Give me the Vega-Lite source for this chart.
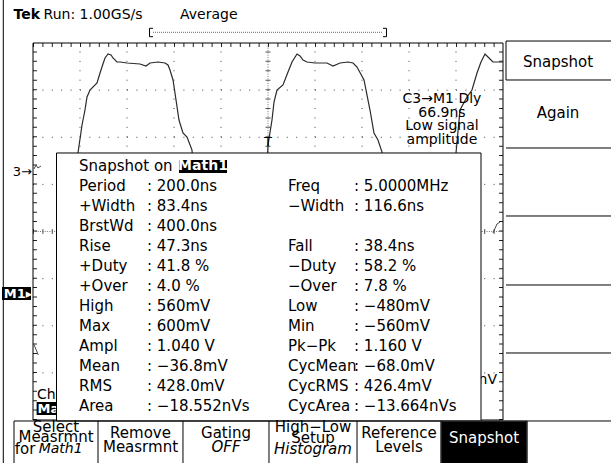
{
"$schema":"https://vega.github.io/schema/vega-lite/v6.json",
"width":470,"height":377,"autosize":"none",
"padding":{"left":33,"top":43,"right":108,"bottom":43},
"background":"white",
"config":{"view":{"stroke":null},"axis":{"disable":true},"text":{"font":"DejaVu Sans","baseline":"middle","color":"black"}},
"datasets":{
"wave":[{"t":0,"v":-1.061},{"t":0.83,"v":-1.061},{"t":0.872,"v":2.546},{"t":0.957,"v":5.666},{"t":1.043,"v":6.26},{"t":1.106,"v":6.578},{"t":1.149,"v":6.854},{"t":1.213,"v":7.003},{"t":1.362,"v":7.151},{"t":1.426,"v":7.363},{"t":1.489,"v":7.554},{"t":1.532,"v":7.682},{"t":1.596,"v":7.767},{"t":1.66,"v":7.745},{"t":1.702,"v":7.682},{"t":1.787,"v":7.597},{"t":1.851,"v":7.597},{"t":2.0,"v":7.576},{"t":2.277,"v":7.554},{"t":2.404,"v":7.512},{"t":2.489,"v":7.576},{"t":2.66,"v":7.597},{"t":2.809,"v":7.576},{"t":2.872,"v":7.533},{"t":2.915,"v":7.427},{"t":2.979,"v":7.215},{"t":3.043,"v":6.79},{"t":3.106,"v":6.366},{"t":3.191,"v":6.09},{"t":3.277,"v":6.005},{"t":3.383,"v":5.729},{"t":3.511,"v":3.607},{"t":3.617,"v":-1.061},{"t":4.787,"v":-1.061},{"t":4.872,"v":2.546},{"t":5.0,"v":5.836},{"t":5.085,"v":6.366},{"t":5.128,"v":6.748},{"t":5.191,"v":7.003},{"t":5.319,"v":7.109},{"t":5.426,"v":7.385},{"t":5.511,"v":7.597},{"t":5.617,"v":7.767},{"t":5.681,"v":7.724},{"t":5.745,"v":7.639},{"t":5.83,"v":7.597},{"t":6.0,"v":7.576},{"t":6.255,"v":7.576},{"t":6.383,"v":7.512},{"t":6.532,"v":7.576},{"t":6.702,"v":7.597},{"t":6.809,"v":7.576},{"t":6.894,"v":7.491},{"t":7.043,"v":7.215},{"t":7.17,"v":6.578},{"t":7.255,"v":6.09},{"t":7.34,"v":5.942},{"t":7.426,"v":5.687},{"t":7.553,"v":3.607},{"t":7.638,"v":-1.061},{"t":8.787,"v":-1.061},{"t":8.872,"v":2.546},{"t":9.0,"v":5.666},{"t":9.085,"v":6.578},{"t":9.234,"v":6.854},{"t":9.34,"v":7.003},{"t":9.447,"v":7.363},{"t":9.532,"v":7.597},{"t":9.617,"v":7.767},{"t":9.702,"v":7.682},{"t":9.787,"v":7.597},{"t":10.0,"v":7.597}],
"c3":[{"s":"a","t":0.021,"v":5.326},{"s":"a","t":0.064,"v":5.411},{"s":"a","t":0.106,"v":5.348},{"s":"a","t":0.17,"v":5.39},{"s":"b","t":0.007,"v":1.634},{"s":"b","t":0.113,"v":1.379},{"s":"c","t":9.787,"v":3.968},{"s":"c","t":9.872,"v":4.159},{"s":"c","t":9.936,"v":4.202}],
"table":[
{"line":1,"side":"L","label":"Period","value":": 200.0ns"},
{"line":2,"side":"L","label":"+Width","value":": 83.4ns"},
{"line":3,"side":"L","label":"BrstWd","value":": 400.0ns"},
{"line":4,"side":"L","label":"Rise","value":": 47.3ns"},
{"line":5,"side":"L","label":"+Duty","value":": 41.8 %"},
{"line":6,"side":"L","label":"+Over","value":": 4.0 %"},
{"line":7,"side":"L","label":"High","value":": 560mV"},
{"line":8,"side":"L","label":"Max","value":": 600mV"},
{"line":9,"side":"L","label":"Ampl","value":": 1.040 V"},
{"line":10,"side":"L","label":"Mean","value":": −36.8mV"},
{"line":11,"side":"L","label":"RMS","value":": 428.0mV"},
{"line":12,"side":"L","label":"Area","value":": −18.552nVs"},
{"line":1,"side":"R","label":"Freq","value":": 5.0000MHz"},
{"line":2,"side":"R","label":"−Width","value":": 116.6ns"},
{"line":4,"side":"R","label":"Fall","value":": 38.4ns"},
{"line":5,"side":"R","label":"−Duty","value":": 58.2 %"},
{"line":6,"side":"R","label":"−Over","value":": 7.8 %"},
{"line":7,"side":"R","label":"Low","value":": −480mV"},
{"line":8,"side":"R","label":"Min","value":": −560mV"},
{"line":9,"side":"R","label":"Pk−Pk","value":": 1.160 V"},
{"line":10,"side":"R","label":"CycMean","value":": −68.0mV"},
{"line":11,"side":"R","label":"CycRMS","value":": 426.4mV"},
{"line":12,"side":"R","label":"CycArea","value":": −13.664nVs"}],
"frame":[
{"x":-0.632,"x2":-0.632,"y":-0.95,"y2":8.95},
{"x":10.064,"x2":12.4,"y":8.042,"y2":8.042},
{"x":10.064,"x2":12.4,"y":7.215,"y2":7.215},
{"x":10.064,"x2":10.064,"y":7.215,"y2":8.042},
{"x":10.064,"x2":12.4,"y":5.772,"y2":5.772},
{"x":10.064,"x2":12.4,"y":4.329,"y2":4.329},
{"x":10.064,"x2":12.4,"y":2.865,"y2":2.865},
{"x":10.064,"x2":12.4,"y":1.422,"y2":1.422},
{"x":-0.404,"x2":12.4,"y":-0.021,"y2":-0.021},
{"x":-0.404,"x2":-0.404,"y":-0.021,"y2":-0.95},
{"x":1.383,"x2":1.383,"y":-0.021,"y2":-0.95},
{"x":3.191,"x2":3.191,"y":-0.021,"y2":-0.95},
{"x":5.021,"x2":5.021,"y":-0.021,"y2":-0.95},
{"x":6.894,"x2":6.894,"y":-0.021,"y2":-0.95},
{"x":8.681,"x2":8.681,"y":-0.021,"y2":-0.95},
{"x":10.511,"x2":10.511,"y":-0.021,"y2":-0.95},
{"x":2.479,"x2":2.479,"y":8.134,"y2":8.312},
{"x":2.479,"x2":2.553,"y":8.312,"y2":8.312},
{"x":2.479,"x2":2.553,"y":8.134,"y2":8.134},
{"x":7.521,"x2":7.521,"y":8.134,"y2":8.312},
{"x":7.447,"x2":7.521,"y":8.312,"y2":8.312},
{"x":7.447,"x2":7.521,"y":8.134,"y2":8.134}],
"centerText":[
{"t":"Snapshot","x":11.17,"y":7.603},
{"t":"Again","x":11.17,"y":6.508},
{"t":"Select","x":0.489,"y":-0.142},
{"t":"Measrmnt","x":0.489,"y":-0.361},
{"t":"Remove","x":2.287,"y":-0.282},
{"t":"Measrmnt","x":2.287,"y":-0.567},
{"t":"Gating","x":4.106,"y":-0.282},
{"t":"High−Low","x":5.957,"y":-0.142},
{"t":"Setup","x":5.957,"y":-0.382},
{"t":"Reference","x":7.787,"y":-0.282},
{"t":"Levels","x":7.787,"y":-0.567}],
"italicCenter":[
{"t":"OFF","x":4.106,"y":-0.567},
{"t":"Histogram","x":5.957,"y":-0.615}]
},
"resolve":{"scale":{"y":"independent"}},
"layer":[
{"layer":[
{"data":{"values":[{"g":1},{"g":2},{"g":3},{"g":4},{"g":6},{"g":7},{"g":8},{"g":9}]},
 "mark":{"type":"rule","stroke":"#444","strokeWidth":1,"strokeDash":[1,8.425]},
 "encoding":{"x":{"field":"g","type":"quantitative","scale":{"domain":[0,10],"nice":false,"zero":false}},"y":{"datum":0,"type":"quantitative","scale":{"domain":[0,8],"nice":false,"zero":false}},"y2":{"datum":8}}},
{"data":{"values":[{"g":1},{"g":2},{"g":3},{"g":5},{"g":6},{"g":7}]},
 "mark":{"type":"rule","stroke":"#444","strokeWidth":1,"strokeDash":[1,8.4]},
 "encoding":{"y":{"field":"g","type":"quantitative","scale":{"domain":[0,8],"nice":false,"zero":false}},"x":{"datum":0,"type":"quantitative","scale":{"domain":[0,10],"nice":false,"zero":false}},"x2":{"datum":10}}},
{"data":{"values":[{}]},
 "mark":{"type":"rule","stroke":"#777","strokeWidth":1,"strokeDash":[1,1.35]},
 "encoding":{"x":{"datum":5,"type":"quantitative","scale":{"domain":[0,10],"nice":false,"zero":false}},"y":{"datum":0,"type":"quantitative","scale":{"domain":[0,8],"nice":false,"zero":false}},"y2":{"datum":8}}},
{"data":{"values":[{}]},
 "mark":{"type":"rule","stroke":"#777","strokeWidth":1,"strokeDash":[1,1.35]},
 "encoding":{"y":{"datum":4,"type":"quantitative","scale":{"domain":[0,8],"nice":false,"zero":false}},"x":{"datum":0,"type":"quantitative","scale":{"domain":[0,10],"nice":false,"zero":false}},"x2":{"datum":10}}},
{"data":{"values":[{}]},
 "mark":{"type":"rule","stroke":"#555","strokeWidth":5,"strokeDash":[1,8.425]},
 "encoding":{"x":{"datum":5,"type":"quantitative","scale":{"domain":[0,10],"nice":false,"zero":false}},"y":{"datum":0,"type":"quantitative","scale":{"domain":[0,8],"nice":false,"zero":false}},"y2":{"datum":8}}},
{"data":{"values":[{}]},
 "mark":{"type":"rule","stroke":"#555","strokeWidth":5,"strokeDash":[1,8.4]},
 "encoding":{"y":{"datum":4,"type":"quantitative","scale":{"domain":[0,8],"nice":false,"zero":false}},"x":{"datum":0,"type":"quantitative","scale":{"domain":[0,10],"nice":false,"zero":false}},"x2":{"datum":10}}},
{"data":{"values":[{}]},
 "mark":{"type":"rule","stroke":"#222","strokeWidth":4,"strokeDash":[1,8.4],"yOffset":2},
 "encoding":{"y":{"datum":8,"type":"quantitative","scale":{"domain":[0,8],"nice":false,"zero":false}},"x":{"datum":0,"type":"quantitative","scale":{"domain":[0,10],"nice":false,"zero":false}},"x2":{"datum":10}}},
{"data":{"values":[{}]},
 "mark":{"type":"rule","stroke":"#222","strokeWidth":4,"strokeDash":[1,8.425],"xOffset":2},
 "encoding":{"x":{"datum":0,"type":"quantitative","scale":{"domain":[0,10],"nice":false,"zero":false}},"y":{"datum":0,"type":"quantitative","scale":{"domain":[0,8],"nice":false,"zero":false}},"y2":{"datum":8}}},
{"data":{"values":[{}]},
 "mark":{"type":"rule","stroke":"#222","strokeWidth":4,"strokeDash":[1,8.425],"xOffset":-2},
 "encoding":{"x":{"datum":10,"type":"quantitative","scale":{"domain":[0,10],"nice":false,"zero":false}},"y":{"datum":0,"type":"quantitative","scale":{"domain":[0,8],"nice":false,"zero":false}},"y2":{"datum":8}}},
{"data":{"values":[{}]},
 "mark":{"type":"rect","fillOpacity":0,"stroke":"black","strokeWidth":1},
 "encoding":{"x":{"datum":0,"type":"quantitative","scale":{"domain":[0,10],"nice":false,"zero":false}},"x2":{"datum":10},"y":{"datum":0,"type":"quantitative","scale":{"domain":[0,8],"nice":false,"zero":false}},"y2":{"datum":8}}},
{"data":{"name":"wave"},
 "mark":{"type":"line","stroke":"#2a2a2a","strokeWidth":1.2,"clip":true},
 "encoding":{"x":{"field":"t","type":"quantitative","scale":{"domain":[0,10],"nice":false,"zero":false}},"y":{"field":"v","type":"quantitative","scale":{"domain":[0,8],"nice":false,"zero":false}}}},
{"data":{"name":"c3"},
 "mark":{"type":"line","stroke":"#444","strokeWidth":1,"clip":true},
 "encoding":{"detail":{"field":"s"},"x":{"field":"t","type":"quantitative","scale":{"domain":[0,10],"nice":false,"zero":false}},"y":{"field":"v","type":"quantitative","scale":{"domain":[0,8],"nice":false,"zero":false}}}},
{"data":{"values":[{}]},
 "mark":{"type":"text","text":"T","fontSize":13,"align":"center"},
 "encoding":{"x":{"datum":5,"type":"quantitative","scale":{"domain":[0,10],"nice":false,"zero":false}},"y":{"datum":5.9,"type":"quantitative","scale":{"domain":[0,8],"nice":false,"zero":false}}}},
{"data":{"values":[{}]},
 "mark":{"type":"text","text":["C3→M1 Dly","66.9ns","Low signal","amplitude"],"lineHeight":13.7,"fontSize":14,"align":"center"},
 "encoding":{"x":{"datum":8.702,"type":"quantitative","scale":{"domain":[0,10],"nice":false,"zero":false}},"y":{"datum":6.812,"type":"quantitative","scale":{"domain":[0,8],"nice":false,"zero":false}}}},
{"data":{"values":[{}]},
 "mark":{"type":"text","text":"3→","fontSize":13,"align":"right"},
 "encoding":{"x":{"datum":-0.021,"type":"quantitative","scale":{"domain":[0,10],"nice":false,"zero":false}},"y":{"datum":5.269,"type":"quantitative","scale":{"domain":[0,8],"nice":false,"zero":false}}}},
{"data":{"values":[{"x":-0.66,"x2":-0.043,"y":2.546,"y2":2.822},{"x":0.077,"x2":0.6,"y":0.106,"y2":0.382}]},
 "mark":{"type":"rect","fill":"black"},
 "encoding":{"x":{"field":"x","type":"quantitative","scale":{"domain":[0,10],"nice":false,"zero":false}},"x2":{"field":"x2"},"y":{"field":"y","type":"quantitative","scale":{"domain":[0,8],"nice":false,"zero":false}},"y2":{"field":"y2"}}},
{"data":{"values":[{"t":"M1▸","x":-0.62,"y":2.684},{"t":"Math","x":0.095,"y":0.244}]},
 "mark":{"type":"text","fontSize":13,"fontWeight":"bold","align":"left","color":"white"},
 "encoding":{"text":{"field":"t"},"x":{"field":"x","type":"quantitative","scale":{"domain":[0,10],"nice":false,"zero":false}},"y":{"field":"y","type":"quantitative","scale":{"domain":[0,8],"nice":false,"zero":false}}}},
{"data":{"values":[{}]},
 "mark":{"type":"text","text":"Ch3","fontSize":14,"align":"left"},
 "encoding":{"x":{"datum":0.085,"type":"quantitative","scale":{"domain":[0,10],"nice":false,"zero":false}},"y":{"datum":0.53,"type":"quantitative","scale":{"domain":[0,8],"nice":false,"zero":false}}}},
{"data":{"values":[{}]},
 "mark":{"type":"text","text":"3nV","fontSize":14,"align":"right"},
 "encoding":{"x":{"datum":9.872,"type":"quantitative","scale":{"domain":[0,10],"nice":false,"zero":false}},"y":{"datum":0.849,"type":"quantitative","scale":{"domain":[0,8],"nice":false,"zero":false}}}},
{"data":{"values":[{}]},
 "mark":{"type":"rect","fill":"white","stroke":"black","strokeWidth":1},
 "encoding":{"x":{"datum":0.5,"type":"quantitative","scale":{"domain":[0,10],"nice":false,"zero":false}},"x2":{"datum":9.532},"y":{"datum":-0.021,"type":"quantitative","scale":{"domain":[0,8],"nice":false,"zero":false}},"y2":{"datum":5.666}}},
{"data":{"values":[{}]},
 "mark":{"type":"rule","stroke":"#666","strokeWidth":1,"strokeDash":[1,1]},
 "encoding":{"y":{"datum":8.227,"type":"quantitative","scale":{"domain":[0,8],"nice":false,"zero":false}},"x":{"datum":2.553,"type":"quantitative","scale":{"domain":[0,10],"nice":false,"zero":false}},"x2":{"datum":7.447}}},
{"data":{"values":[{}]},
 "mark":{"type":"rect","fill":"black","stroke":"#888","strokeWidth":1},
 "encoding":{"x":{"datum":8.681,"type":"quantitative","scale":{"domain":[0,10],"nice":false,"zero":false}},"x2":{"datum":10.511},"y":{"datum":-0.021,"type":"quantitative","scale":{"domain":[0,8],"nice":false,"zero":false}},"y2":{"datum":-0.95}}},
{"data":{"name":"frame"},
 "mark":{"type":"rule","stroke":"black","strokeWidth":1},
 "encoding":{"x":{"field":"x","type":"quantitative","scale":{"domain":[0,10],"nice":false,"zero":false}},"x2":{"field":"x2"},"y":{"field":"y","type":"quantitative","scale":{"domain":[0,8],"nice":false,"zero":false}},"y2":{"field":"y2"}}},
{"data":{"values":[{}]},
 "mark":{"type":"text","text":"Tek","fontSize":14,"fontWeight":"bold","align":"left"},
 "encoding":{"x":{"datum":-0.413,"type":"quantitative","scale":{"domain":[0,10],"nice":false,"zero":false}},"y":{"datum":8.594,"type":"quantitative","scale":{"domain":[0,8],"nice":false,"zero":false}}}},
{"data":{"values":[{"t":"Run: 1.00GS/s","x":0.2255},{"t":"Average","x":3.128}]},
 "mark":{"type":"text","fontSize":14,"align":"left"},
 "encoding":{"text":{"field":"t"},"x":{"field":"x","type":"quantitative","scale":{"domain":[0,10],"nice":false,"zero":false}},"y":{"datum":8.594,"type":"quantitative","scale":{"domain":[0,8],"nice":false,"zero":false}}}},
{"data":{"name":"centerText"},
 "mark":{"type":"text","fontSize":15,"align":"center"},
 "encoding":{"text":{"field":"t"},"x":{"field":"x","type":"quantitative","scale":{"domain":[0,10],"nice":false,"zero":false}},"y":{"field":"y","type":"quantitative","scale":{"domain":[0,8],"nice":false,"zero":false}}}},
{"data":{"values":[{}]},
 "mark":{"type":"text","text":"for","fontSize":15,"align":"left"},
 "encoding":{"x":{"datum":-0.39,"type":"quantitative","scale":{"domain":[0,10],"nice":false,"zero":false}},"y":{"datum":-0.605,"type":"quantitative","scale":{"domain":[0,8],"nice":false,"zero":false}}}},
{"data":{"values":[{}]},
 "mark":{"type":"text","text":"Math1","fontSize":14,"fontStyle":"italic","align":"left"},
 "encoding":{"x":{"datum":0.12,"type":"quantitative","scale":{"domain":[0,10],"nice":false,"zero":false}},"y":{"datum":-0.605,"type":"quantitative","scale":{"domain":[0,8],"nice":false,"zero":false}}}},
{"data":{"name":"italicCenter"},
 "mark":{"type":"text","fontSize":15,"fontStyle":"italic","align":"center"},
 "encoding":{"text":{"field":"t"},"x":{"field":"x","type":"quantitative","scale":{"domain":[0,10],"nice":false,"zero":false}},"y":{"field":"y","type":"quantitative","scale":{"domain":[0,8],"nice":false,"zero":false}}}},
{"data":{"values":[{}]},
 "mark":{"type":"text","text":"Snapshot","fontSize":15,"align":"center","color":"white"},
 "encoding":{"x":{"datum":9.596,"type":"quantitative","scale":{"domain":[0,10],"nice":false,"zero":false}},"y":{"datum":-0.382,"type":"quantitative","scale":{"domain":[0,8],"nice":false,"zero":false}}}}
]},
{"layer":[
{"data":{"values":[{}]},
 "mark":{"type":"rect","fill":"black"},
 "encoding":{"x":{"datum":3.106,"type":"quantitative","scale":{"domain":[0,10],"nice":false,"zero":false}},"x2":{"datum":4.128},"y":{"datum":-0.33,"type":"quantitative","scale":{"domain":[-6.19,12.707],"reverse":true,"nice":false,"zero":false}},"y2":{"datum":0.33}}},
{"data":{"values":[{}]},
 "mark":{"type":"text","text":"Math1","fontSize":14,"fontWeight":"bold","align":"center","color":"white"},
 "encoding":{"x":{"datum":3.617,"type":"quantitative","scale":{"domain":[0,10],"nice":false,"zero":false}},"y":{"datum":0,"type":"quantitative","scale":{"domain":[-6.19,12.707],"reverse":true,"nice":false,"zero":false}}}},
{"data":{"values":[{}]},
 "mark":{"type":"text","text":"Snapshot on","fontSize":15,"align":"left"},
 "encoding":{"x":{"datum":0.979,"type":"quantitative","scale":{"domain":[0,10],"nice":false,"zero":false}},"y":{"datum":0,"type":"quantitative","scale":{"domain":[-6.19,12.707],"reverse":true,"nice":false,"zero":false}}}},
{"data":{"name":"table"},"transform":[{"filter":"datum.side==='L'"}],
 "mark":{"type":"text","fontSize":15,"align":"left"},
 "encoding":{"text":{"field":"label"},"x":{"datum":0.979,"type":"quantitative","scale":{"domain":[0,10],"nice":false,"zero":false}},"y":{"field":"line","type":"quantitative","scale":{"domain":[-6.19,12.707],"reverse":true,"nice":false,"zero":false}}}},
{"data":{"name":"table"},"transform":[{"filter":"datum.side==='L'"}],
 "mark":{"type":"text","fontSize":15,"align":"left"},
 "encoding":{"text":{"field":"value"},"x":{"datum":2.4255,"type":"quantitative","scale":{"domain":[0,10],"nice":false,"zero":false}},"y":{"field":"line","type":"quantitative","scale":{"domain":[-6.19,12.707],"reverse":true,"nice":false,"zero":false}}}},
{"data":{"name":"table"},"transform":[{"filter":"datum.side==='R'"}],
 "mark":{"type":"text","fontSize":15,"align":"left"},
 "encoding":{"text":{"field":"label"},"x":{"datum":5.4255,"type":"quantitative","scale":{"domain":[0,10],"nice":false,"zero":false}},"y":{"field":"line","type":"quantitative","scale":{"domain":[-6.19,12.707],"reverse":true,"nice":false,"zero":false}}}},
{"data":{"name":"table"},"transform":[{"filter":"datum.side==='R'"}],
 "mark":{"type":"text","fontSize":15,"align":"left"},
 "encoding":{"text":{"field":"value"},"x":{"datum":6.83,"type":"quantitative","scale":{"domain":[0,10],"nice":false,"zero":false}},"y":{"field":"line","type":"quantitative","scale":{"domain":[-6.19,12.707],"reverse":true,"nice":false,"zero":false}}}}
]}
]
}
